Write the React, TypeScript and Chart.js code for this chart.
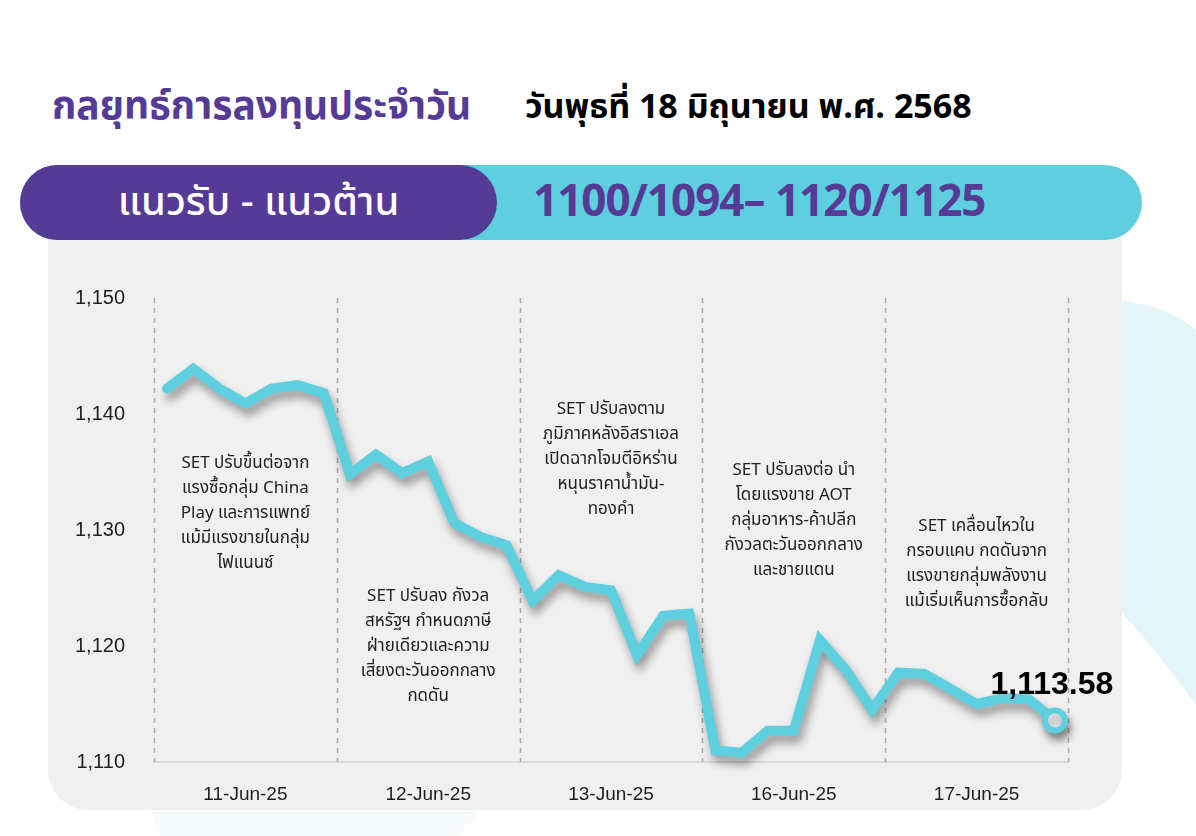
import React, { useEffect, useRef } from "react";
import { Chart, registerables } from "chart.js";

Chart.register(...registerables);

// ---- data ----
const dayLabels = ["11-Jun-25", "12-Jun-25", "13-Jun-25", "16-Jun-25", "17-Jun-25"];
const day1 = [1142.2, 1143.9, 1142.2, 1140.9, 1142.2, 1142.5, 1141.8];
const day2 = [1134.8, 1136.5, 1134.9, 1135.9, 1130.6, 1129.4, 1128.7];
const day3 = [1123.9, 1126.1, 1125.1, 1124.8, 1119.2, 1122.6, 1122.8];
const day4 = [1111.0, 1110.8, 1112.7, 1112.7, 1120.5, 1117.9, 1114.5];
const day5 = [1117.7, 1117.6, 1116.3, 1115.0, 1115.5, 1115.4, 1113.58];
const yTicks = [1110, 1120, 1130, 1140, 1150];
const lastValueLabel = "1,113.58";

const notes1 = ["SET ปรับขึ้นต่อจาก", "แรงซื้อกลุ่ม China", "Play และการแพทย์", "แม้มีแรงขายในกลุ่ม", "ไฟแนนซ์"];
const notes2 = ["SET ปรับลง กังวล", "สหรัฐฯ กำหนดภาษี", "ฝ่ายเดียวและความ", "เสี่ยงตะวันออกกลาง", "กดดัน"];
const notes3 = ["SET ปรับลงตาม", "ภูมิภาคหลังอิสราเอล", "เปิดฉากโจมตีอิหร่าน", "หนุนราคาน้ำมัน-", "ทองคำ"];
const notes4 = ["SET ปรับลงต่อ นำ", "โดยแรงขาย AOT", "กลุ่มอาหาร-ค้าปลีก", "กังวลตะวันออกกลาง", "และชายแดน"];
const notes5 = ["SET เคลื่อนไหวใน", "กรอบแคบ กดดันจาก", "แรงขายกลุ่มพลังงาน", "แม้เริ่มเห็นการซื้อกลับ"];
// vertical anchor (in index value) of the first line of each note
const noteAnchors = [1135.6, 1124.2, 1140.3, 1135.0, 1130.2];

const title = "กลยุทธ์การลงทุนประจำวัน";
const dateText = "วันพุธที่ 18 มิถุนายน พ.ศ. 2568";
const bandLeft = "แนวรับ - แนวต้าน";
const bandRight = "1100/1094– 1120/1125";

const days = [day1, day2, day3, day4, day5];
const notes = [notes1, notes2, notes3, notes4, notes5];
const perDay = day1.length;
const values = days.flat();
const labels = days.flatMap((d, i) => d.map((_, k) => `${dayLabels[i]} #${k + 1}`));

const THAI = '"Noto Sans Thai", "Noto Sans", "DejaVu Sans", sans-serif';
const CYAN = "#5ecfdf";
const PURPLE = "#553a96";

const overlayPlugin = {
  id: "overlay",
  beforeDatasetsDraw(chart: any) {
    const { ctx, chartArea, scales } = chart;
    const x = scales.x;
    const y = scales.y;
    ctx.save();
    ctx.strokeStyle = "#a8a8a8";
    ctx.lineWidth = 1.5;
    ctx.setLineDash([5, 5]);
    for (let d = 0; d <= days.length; d++) {
      let px;
      if (d === 0) px = chartArea.left;
      else if (d === days.length) px = chartArea.right;
      else px = (x.getPixelForValue(d * perDay - 1) + x.getPixelForValue(d * perDay)) / 2;
      ctx.beginPath();
      ctx.moveTo(Math.round(px) + 0.5, chartArea.top);
      ctx.lineTo(Math.round(px) + 0.5, chartArea.bottom);
      ctx.stroke();
    }
    ctx.setLineDash([]);
    ctx.fillStyle = "#1e1e1e";
    ctx.font = `17px ${THAI}`;
    ctx.textAlign = "center";
    ctx.textBaseline = "middle";
    notes.forEach((lines, d) => {
      const cx = (x.getPixelForValue(d * perDay) + x.getPixelForValue(d * perDay + perDay - 1)) / 2;
      const top = y.getPixelForValue(noteAnchors[d]);
      lines.forEach((t, i) => ctx.fillText(t, cx, top + i * 25));
    });
    ctx.restore();
    ctx.save();
    ctx.shadowColor = "rgba(0,0,0,0.38)";
    ctx.shadowBlur = 10;
    ctx.shadowOffsetX = 3;
    ctx.shadowOffsetY = 7;
  },
  afterDatasetsDraw(chart: any) {
    const { ctx, scales } = chart;
    ctx.restore();
    const i = values.length - 1;
    const px = scales.x.getPixelForValue(i);
    const py = scales.y.getPixelForValue(values[i]);
    ctx.save();
    ctx.fillStyle = "#000";
    ctx.font = 'bold 32px "Liberation Sans", Arial, sans-serif';
    ctx.textAlign = "center";
    ctx.textBaseline = "alphabetic";
    ctx.fillText(lastValueLabel, px - 3, py - 26);
    ctx.restore();
  },
};

function LineChart() {
  const ref = useRef<HTMLCanvasElement>(null);
  useEffect(() => {
    if (!ref.current) return;
    const last = values.length - 1;
    const chart = new Chart(ref.current, {
      type: "line",
      data: {
        labels,
        datasets: [
          {
            data: values,
            borderColor: CYAN,
            borderWidth: 10,
            borderJoinStyle: "miter",
            borderCapStyle: "round",
            tension: 0,
            pointRadius: values.map((_, i) => (i === last ? 10 : 0)),
            pointBackgroundColor: "#ffffff",
            pointBorderColor: CYAN,
            pointBorderWidth: 6,
            clip: false as any,
          },
        ],
      },
      options: {
        animation: false,
        responsive: false,
        devicePixelRatio: 1,
        layout: { padding: { left: 0, right: 54, top: 58, bottom: 0 } },
        plugins: { legend: { display: false }, tooltip: { enabled: false } },
        scales: {
          x: {
            type: "category",
            offset: true,
            grid: { display: false, drawTicks: false },
            border: { display: true, color: "#dadada", width: 2 },
            ticks: {
              autoSkip: false,
              maxRotation: 0,
              padding: 21,
              color: "#1e1e1e",
              font: { size: 19, family: '"Liberation Sans", Arial, sans-serif' },
              callback: (_v: any, idx: number) =>
                idx % perDay === Math.floor(perDay / 2) ? dayLabels[Math.floor(idx / perDay)] : "",
            },
            afterFit: (s: any) => {
              s.height = 48;
            },
          },
          y: {
            min: yTicks[0],
            max: yTicks[yTicks.length - 1],
            grid: { display: false, drawTicks: false },
            border: { display: false },
            afterBuildTicks: (s: any) => {
              s.ticks = yTicks.map((v) => ({ value: v }));
            },
            ticks: {
              padding: 29,
              color: "#1e1e1e",
              font: { size: 20, family: '"Liberation Sans", Arial, sans-serif' },
              callback: (v: any) => Number(v).toLocaleString("en-US"),
            },
            afterFit: (s: any) => {
              s.width = 106;
            },
          },
        },
      },
      plugins: [overlayPlugin],
    });
    return () => chart.destroy();
  }, []);
  return (
    <canvas
      ref={ref}
      width={1074}
      height={570}
      style={{ position: "absolute", left: 48, top: 240, width: 1074, height: 570 }}
    />
  );
}

export default function App() {
  return (
    <div
      style={{
        position: "fixed",
        left: 0,
        top: 0,
        width: 1196,
        height: 836,
        overflow: "hidden",
        background: "#ffffff",
        fontFamily: THAI,
      }}
    >
      <svg width={1196} height={836} style={{ position: "absolute", left: 0, top: 0 }}>
        <path d="M1100,300 Q1160,300 1196,330 L1196,705 Q1150,640 1100,590 Z" fill="#e3f5f8" />
        <path d="M150,812 L480,812 L460,836 L160,836 Z" fill="#f6fbfc" />
      </svg>
      <div
        style={{
          position: "absolute",
          left: 48,
          top: 200,
          width: 1074,
          height: 610,
          background: "#f0f0f0",
          borderRadius: "0 0 40px 40px",
        }}
      />
      <div
        style={{
          position: "absolute",
          left: 52,
          top: 82,
          fontSize: 39,
          fontWeight: 700,
          color: PURPLE,
          whiteSpace: "nowrap",
          lineHeight: "52px",
        }}
      >
        {title}
      </div>
      <div
        style={{
          position: "absolute",
          left: 525,
          top: 82,
          fontSize: 34,
          fontWeight: 700,
          color: "#000",
          whiteSpace: "nowrap",
          lineHeight: "52px",
        }}
      >
        {dateText}
      </div>
      <div
        style={{
          position: "absolute",
          left: 20,
          top: 165,
          width: 1122,
          height: 75,
          borderRadius: 38,
          background: CYAN,
        }}
      />
      <div
        style={{
          position: "absolute",
          left: 20,
          top: 165,
          width: 477,
          height: 75,
          borderRadius: 38,
          background: PURPLE,
          color: "#fff",
          fontSize: 40,
          fontWeight: 500,
          display: "flex",
          alignItems: "center",
          justifyContent: "center",
          whiteSpace: "nowrap",
        }}
      >
        {bandLeft}
      </div>
      <div
        style={{
          position: "absolute",
          left: 533,
          top: 165,
          height: 75,
          display: "flex",
          alignItems: "center",
          fontSize: 44,
          fontWeight: 700,
          color: PURPLE,
          whiteSpace: "nowrap",
          letterSpacing: -1,
        }}
      >
        {bandRight}
      </div>
      <LineChart />
    </div>
  );
}
